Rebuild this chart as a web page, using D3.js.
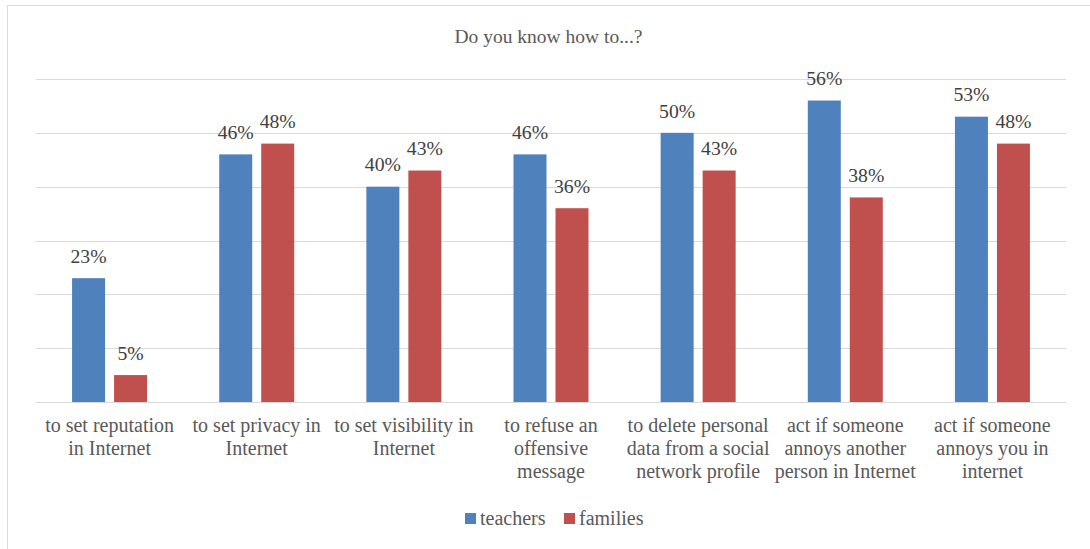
<!DOCTYPE html>
<html><head><meta charset="utf-8">
<script src="https://cdn.jsdelivr.net/npm/d3@7"></script>
<style>
html,body{margin:0;padding:0;background:#fff;}
svg{display:block;}
</style></head>
<body>
<svg id="c" width="1090" height="549" font-family="Liberation Serif"></svg>
<script>
const title = "Do you know how to...?";
const categories = [
  ["to set reputation","in Internet"],
  ["to set privacy in","Internet"],
  ["to set visibility in","Internet"],
  ["to refuse an","offensive","message"],
  ["to delete personal","data from a social","network profile"],
  ["act if someone","annoys another","person in Internet"],
  ["act if someone","annoys you in","internet"]
];
const seriesNames = ["teachers","families"];
const teachers = [23,46,40,46,50,56,53];
const families = [5,48,43,36,43,38,48];
const yTicks = [0,10,20,30,40,50,60];
const colors = ["#4f81bd","#c0504d"];

const FONT = "Liberation Serif";
const svg = d3.select("#c");
svg.append("rect").attr("x",7.5).attr("y",5.5).attr("width",1100).attr("height",600)
  .attr("fill","#fff").attr("stroke","#d9d9d9").attr("stroke-width",1);

const pLeft=36, pRight=1066, pTop=79, pBottom=402;
const idx = categories.map((d,i)=>i);
const x0 = d3.scaleBand().domain(idx).range([pLeft,pRight]).paddingInner(0).paddingOuter(0);
const y = d3.scaleLinear().domain([0,60]).range([pBottom,pTop]);
const groupW = 75;
const x1 = d3.scaleBand().domain(seriesNames).range([0,groupW]).paddingInner(9/42).paddingOuter(0);

// grid
svg.append("g").selectAll("line").data(yTicks).join("line")
  .attr("x1",pLeft).attr("x2",pRight)
  .attr("y1",d=>Math.round(y(d))+0.5).attr("y2",d=>Math.round(y(d))+0.5)
  .attr("stroke","#d9d9d9").attr("stroke-width",1.2);

svg.append("text").attr("x",548.5).attr("y",42.5).attr("text-anchor","middle")
  .attr("font-family",FONT).attr("font-size",19.5).attr("fill","#595959").text(title);

const data = [teachers, families];
seriesNames.forEach((s,si)=>{
  const g = svg.append("g");
  const vals = data[si];
  g.selectAll("rect").data(vals).join("rect")
    .attr("x",(d,i)=>x0(i)+x0.bandwidth()/2-groupW/2+x1(s))
    .attr("width",x1.bandwidth())
    .attr("y",d=>y(d))
    .attr("height",d=>y(0)-y(d))
    .attr("fill",colors[si]);
  g.selectAll("text").data(vals).join("text")
    .attr("x",(d,i)=>x0(i)+x0.bandwidth()/2-groupW/2+x1(s)+x1.bandwidth()/2)
    .attr("y",d=>y(d)-15.3)
    .attr("text-anchor","middle").attr("font-family",FONT).attr("font-size",19.7).attr("fill","#404040")
    .text(d=>d+"%");
});

// category labels
const cl = svg.append("g");
categories.forEach((lines,i)=>{
  const t = cl.append("text").attr("text-anchor","middle").attr("font-family",FONT)
    .attr("font-size",20).attr("fill","#595959");
  lines.forEach((ln,j)=>{
    t.append("tspan").attr("x",x0(i)+x0.bandwidth()/2).attr("y",432+j*23).text(ln);
  });
});

// legend
const lg = svg.append("g");
const legX = [465,564];
seriesNames.forEach((s,i)=>{
  lg.append("rect").attr("x",legX[i]).attr("y",513).attr("width",11).attr("height",11).attr("fill",colors[i]);
  lg.append("text").attr("x",legX[i]+15).attr("y",525).attr("font-family",FONT)
    .attr("font-size",20).attr("fill","#595959").text(s);
});
</script>
</body></html>
